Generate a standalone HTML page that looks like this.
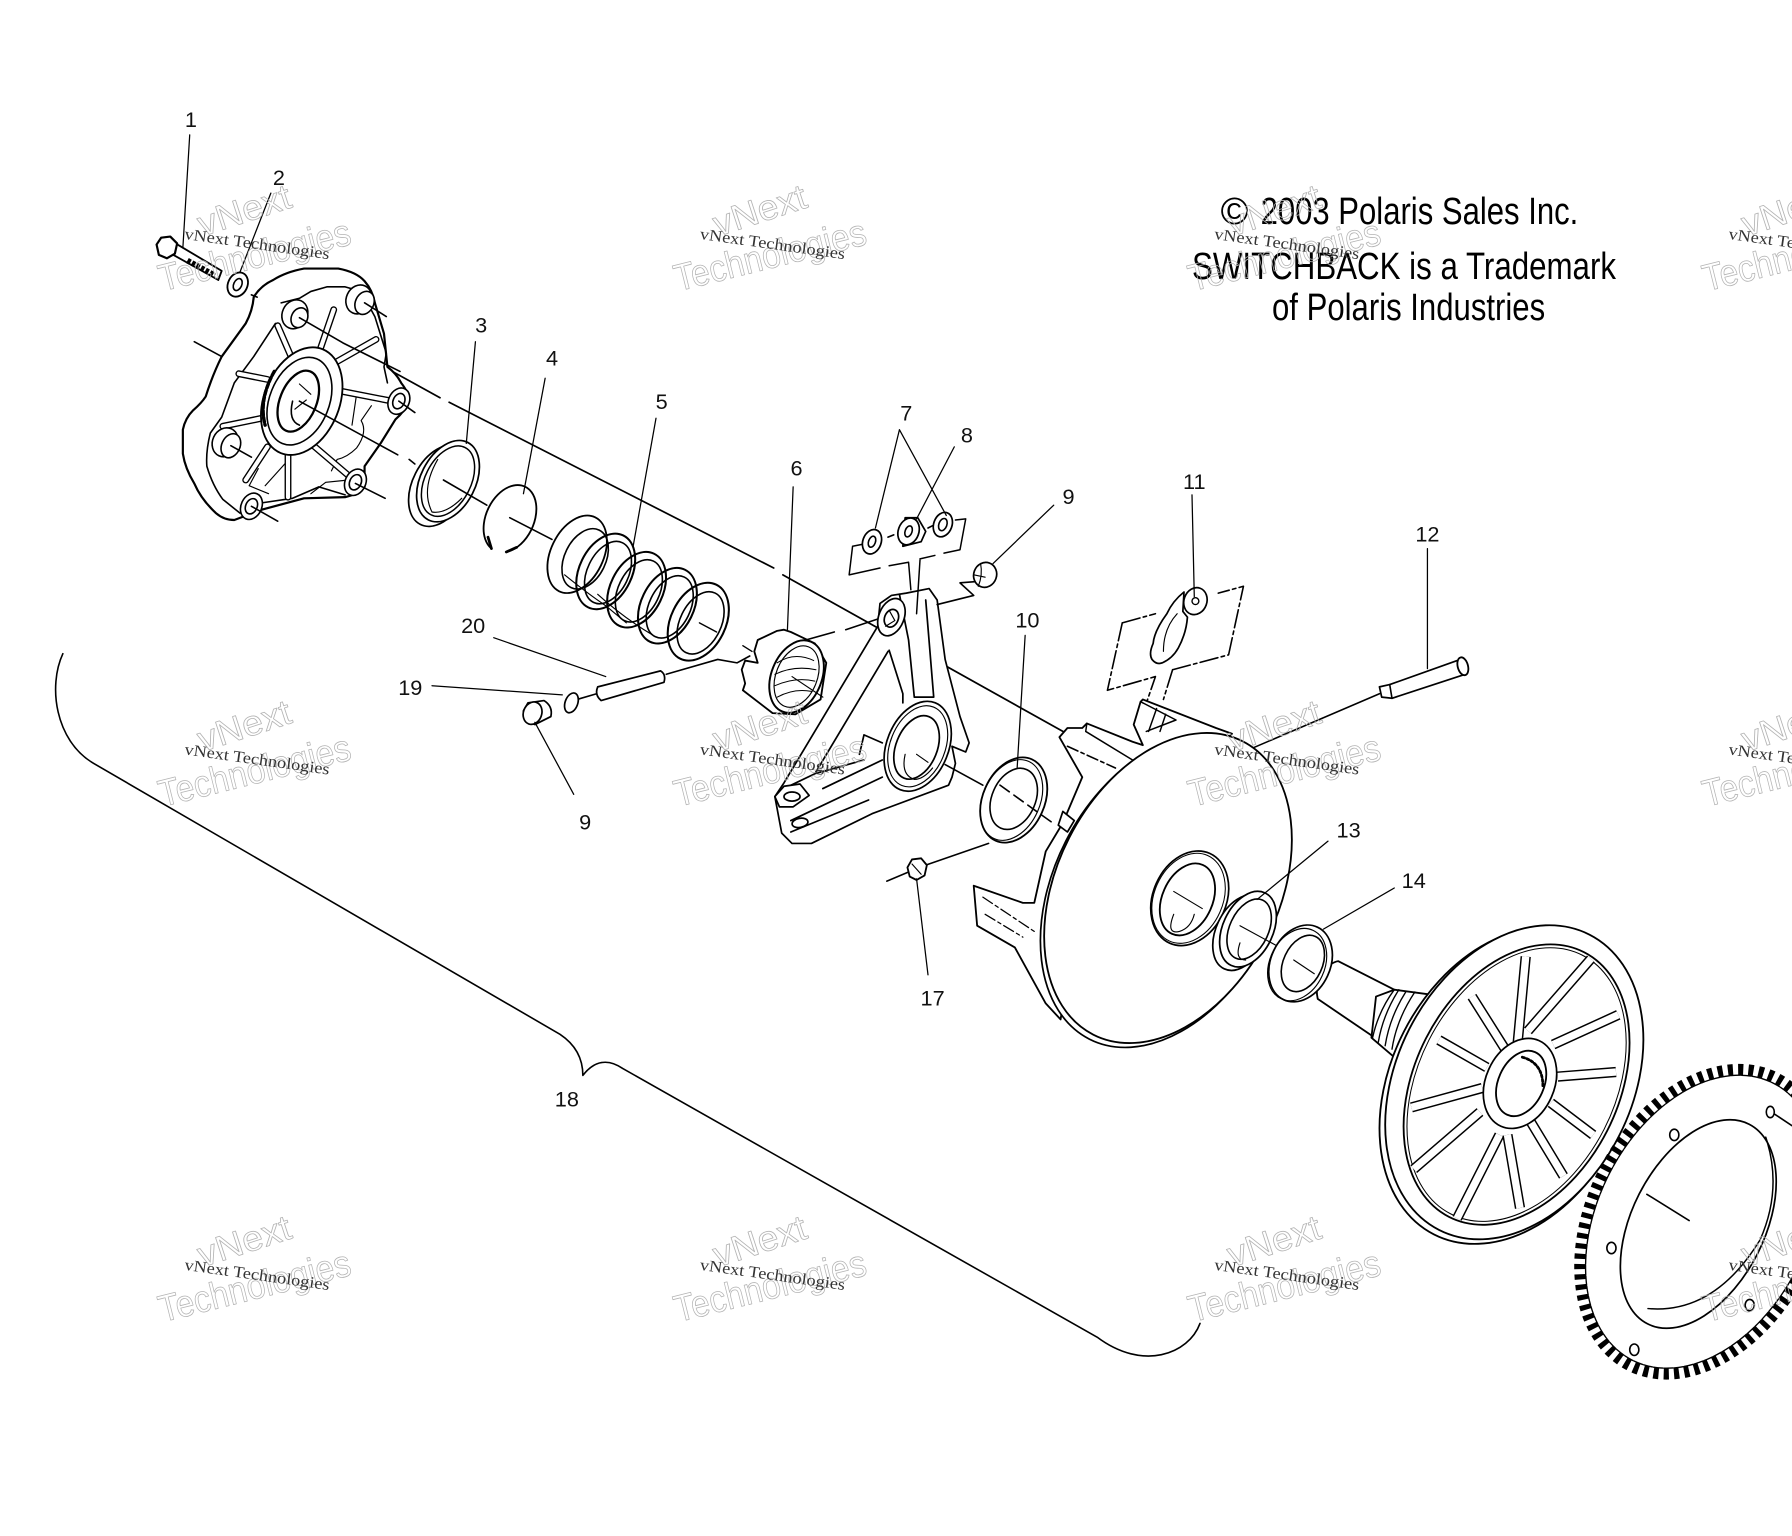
<!DOCTYPE html>
<html><head><meta charset="utf-8"><title>Driven clutch exploded diagram</title>
<style>
html,body{margin:0;padding:0;background:#fff}
svg{display:block}
.w{fill:#fff}
.l{font-family:"Liberation Sans",sans-serif;font-size:19px;fill:#111;stroke:none;text-anchor:middle}
.h{font-family:"Liberation Sans",sans-serif;font-size:33px;fill:#000;stroke:none}
.a{font-family:"Liberation Serif",serif;font-size:14px;fill:#333;stroke:none}
.b{font-family:"Liberation Sans",sans-serif;font-size:31px;fill:none;stroke:#b4b4b4;stroke-width:.7}
.c{font-family:"Liberation Sans",sans-serif;font-size:33px;fill:none;stroke:#b4b4b4;stroke-width:.7}
</style></head><body>
<svg xmlns="http://www.w3.org/2000/svg" width="1792" height="1536" viewBox="0 0 1568 1344" fill="none" stroke="#000" stroke-width="1.4" stroke-linejoin="round" stroke-linecap="round">
<rect x="0" y="0" width="1568" height="1344" fill="#fff" stroke="none"/>

<!-- main axis -->
<path d="M258 278L385 348M393 352L677 497M685 503L930 640" stroke-width="1.5"/>

<!-- brace 18 -->
<path d="M55 572C42 600 48 648 82 668L490 905C505 915 510 928 510 941C520 928 532 926 545 935L960 1170C1000 1200 1040 1185 1050 1158"/>

<!-- cover -->
<g>
<path class="w" stroke-width="1.9" d="M222 260Q228 250 239 245Q250 238 266 235L296 235Q312 238 319 246Q326 254 328 265L336 292L339 321Q347 327 351 335Q358 344 358 351Q354 360 346 367L333 388L319 408L319 426Q312 433 302 435L266 436L229 446L205 455Q196 455 189 449Q176 437 170 423Q162 410 160 397L160 376Q162 366 169 359Q176 353 180 347Q186 328 194 312L215 283Q221 272 222 260Z"/>
<path d="M241 283L222 312L205 335L194 365L184 379Q180 395 181 408Q186 425 195 437L210 449"/>
<path d="M246 265L262 261L272 255L286 251L302 251L316 255L328 277L338 309L336 321L339 335M302 433L279 426L256 436L229 440"/>
<path d="M325 355L316 368Q322 378 312 392Q304 400 295 402L290 412M312 345L308 372M305 420L285 422L272 432" stroke-width="1"/>
<path d="M226 410L218 425L235 432M250 405L232 425" stroke-width="1"/>
<g stroke="#000" stroke-width="6">
<path d="M243 285L256 315M292 271L279 309M329 297L292 318M292 341L343 351M272 388L306 417M252 394L252 435M234 391L215 420M229 366L195 373M234 332L209 327"/>
</g>
<g stroke="#fff" stroke-width="3.6">
<path d="M243 285L256 315M292 271L279 309M329 297L292 318M292 341L343 351M272 388L306 417M252 394L252 435M234 391L215 420M229 366L195 373M234 332L209 327"/>
</g>
<ellipse class="w" cx="264" cy="351" rx="33" ry="49" transform="rotate(22 264 351)" stroke-width="1.6"/>
<ellipse cx="262" cy="351" rx="26" ry="40" transform="rotate(22 262 351)"/>
<ellipse class="w" cx="261" cy="351" rx="16" ry="28" transform="rotate(22 261 351)" stroke-width="2"/>
<path d="M262 336L272 345M258 358L268 350" stroke-width="1"/>
<path d="M256 351Q252 368 262 372"/>
<path d="M240 325Q226 350 232 372" stroke-width="3" stroke-dasharray="4 2"/>
<g class="w">
<ellipse cx="258" cy="275" rx="11" ry="13" transform="rotate(25 258 275)"/>
<ellipse cx="262" cy="278" rx="7" ry="9" transform="rotate(25 262 278)"/>
<ellipse cx="314" cy="262" rx="11" ry="13" transform="rotate(25 314 262)"/>
<ellipse cx="319" cy="265" rx="8" ry="10.5" transform="rotate(25 319 265)"/>
<ellipse cx="349" cy="351" rx="9" ry="12" transform="rotate(25 349 351)"/>
<ellipse cx="349" cy="351" rx="5" ry="7" transform="rotate(25 349 351)"/>
<ellipse cx="311" cy="422" rx="9" ry="12" transform="rotate(25 311 422)"/>
<ellipse cx="311" cy="422" rx="5" ry="7" transform="rotate(25 311 422)"/>
<ellipse cx="220" cy="443" rx="9" ry="12" transform="rotate(25 220 443)"/>
<ellipse cx="220" cy="443" rx="5" ry="7" transform="rotate(25 220 443)"/>
<ellipse cx="197" cy="387" rx="11" ry="13" transform="rotate(25 197 387)"/>
<ellipse cx="202" cy="390" rx="8" ry="11" transform="rotate(25 202 390)"/>
</g>
<path d="M262 278L300 300L350 325M319 265L338 277M349 351L363 361M311 423L337 436M220 443L243 456M202 390L220 400M170 299L194 312M220 258L225 260"/>
<path d="M262 351L348 398M358 402L363 406"/>
</g>

<!-- bolt 1, washer 2 -->
<path class="w" stroke-width="1.6" d="M152 212L194 237L191 245L148 221Z"/>
<path d="M164 228L188 241" stroke-width="5" stroke-dasharray="3 1.5" stroke-linecap="butt"/>
<path class="w" stroke-width="1.9" d="M141 208L149 207L155 213L153 222L146 226L139 223L137 214Z"/>
<ellipse class="w" cx="208" cy="249" rx="8.5" ry="11" transform="rotate(25 208 249)" stroke-width="1.6"/>
<ellipse cx="208" cy="249" rx="3.5" ry="5.5" transform="rotate(25 208 249)"/>

<!-- ring 3 -->
<ellipse class="w" cx="385" cy="425" rx="24" ry="38" transform="rotate(27 385 425)" stroke-width="1.5"/>
<ellipse class="w" cx="392" cy="421" rx="24" ry="38" transform="rotate(27 392 421)" stroke-width="1.5"/>
<ellipse class="w" cx="392" cy="421" rx="20" ry="33" transform="rotate(27 392 421)" stroke-width="1.3"/>
<path d="M383 402Q368 428 378 448Q390 450 404 436" stroke-width="1"/>
<path d="M388 420L426 442"/>

<!-- snap ring 4 -->
<path d="M430 480A21 31 25 1 1 443 483" stroke-width="1.6"/>
<path d="M430 480L427 470M443 483L452 479" stroke-width="2.4"/>
<path d="M446 453L483 472"/>

<!-- spring 5 -->
<g>
<ellipse cx="505" cy="485" rx="23" ry="36" transform="rotate(26 505 485)" class="w" stroke-width="1.6"/>
<ellipse cx="512" cy="489" rx="18" ry="28" transform="rotate(26 512 489)"/>
<ellipse cx="530" cy="500" rx="23" ry="35" transform="rotate(26 530 500)" stroke-width="1.8"/>
<ellipse cx="532" cy="501" rx="18" ry="29" transform="rotate(26 532 501)"/>
<ellipse cx="557" cy="516" rx="23" ry="35" transform="rotate(26 557 516)" stroke-width="1.8"/>
<ellipse cx="559" cy="517" rx="18" ry="29" transform="rotate(26 559 517)"/>
<ellipse cx="584" cy="530" rx="23" ry="35" transform="rotate(26 584 530)" stroke-width="1.8"/>
<ellipse cx="586" cy="531" rx="18" ry="29" transform="rotate(26 586 531)"/>
<ellipse cx="611" cy="544" rx="24" ry="36" transform="rotate(26 611 544)" stroke-width="1.8"/>
<ellipse cx="613" cy="545" rx="18" ry="29" transform="rotate(26 613 545)"/>
<path d="M494 503Q515 520 530 530L548 545M523 520Q545 540 570 555" stroke-width="1"/>
</g>

<!-- pin 20 + 19 + 9 -->
<path d="M583 590L628 577L645 580L656 574M669 570L695 563M705 560L730 553M740 551L770 541"/>
<path class="w" stroke-width="1.5" d="M523 601L578 587Q583 590 581 597L526 613Q520 608 523 601Z"/>
<path d="M505 612L522 607"/>
<ellipse class="w" cx="500" cy="615" rx="5.5" ry="9" transform="rotate(20 500 615)" stroke-width="1.5"/>
<path class="w" stroke-width="1.5" d="M462 615L476 613Q484 618 482 627L468 634Q458 630 458 622Z"/>
<ellipse class="w" cx="466" cy="624" rx="8" ry="10" transform="rotate(20 466 624)" stroke-width="1.5"/>

<!-- part 6 -->
<path class="w" stroke-width="1.6" d="M649 586L652 578L663 580L660 570L663 560L680 552L686 551L692 553L713 563L723 580L718 612L696 625L676 624L650 604L652 598L649 586Z"/>
<ellipse class="w" cx="697" cy="592" rx="22" ry="33" transform="rotate(22 697 592)" stroke-width="1.7"/>
<ellipse cx="697" cy="592" rx="18" ry="28" transform="rotate(22 697 592)" stroke-width="1"/>
<path d="M680 580Q695 570 712 578M678 590Q695 582 714 586M678 600Q696 592 713 596M680 610Q695 602 710 605" stroke-width=".9"/>
<path d="M693 592L720 610" stroke-width="1"/>
<path d="M612 545L627 553M650 565L658 570" stroke-width="1.2"/>

<!-- bracket -->
<g stroke-width="1.5">
<path class="w" d="M770 528L780 521L793 519L813 515L820 525L827 577L840 627L848 650L845 658L833 653L836 668L833 680L830 687L763 712L710 738L693 738L684 729L678 697L686 685L768 548Z"/>
<path d="M777 570L713 677L686 690M778 569L790 607L790 615M795 560L800 610L805 610L817 610L810 525M787 520L795 560M756 665L713 677M720 690L772 665M692 718L772 680M692 728L760 700M772 650L756 643L752 660"/>
<ellipse class="w" cx="780" cy="540" rx="11" ry="17" transform="rotate(22 780 540)"/>
<ellipse cx="780" cy="541" rx="6" ry="8" transform="rotate(22 780 541)"/>
<path d="M778 534L783 543L775 548" stroke-width="1"/>
<ellipse class="w" cx="803" cy="653" rx="27" ry="41" transform="rotate(22 803 653)"/>
<ellipse cx="803" cy="653" rx="24" ry="37" transform="rotate(22 803 653)" stroke-width="1"/>
<ellipse class="w" cx="802" cy="654" rx="18" ry="29" transform="rotate(22 802 654)"/>
<path d="M792 660Q788 678 800 682Q808 682 816 672M802 660L812 667" stroke-width="1"/>
<path class="w" d="M678 697L686 688L700 686L708 696L694 706L682 706Z"/>
<ellipse cx="693" cy="697" rx="7" ry="4" />
<ellipse cx="700" cy="720" rx="7" ry="4" transform="rotate(-10 700 720)"/>
</g>
<path d="M820 529L852 521L840 510L853 509"/>
<path d="M827 669L860 687M875 687L900 707"/>

<!-- 7, 8, box -->
<path d="M746 478L743 503L770 497M778 495L795 492M805 489L818 486M826 484L840 481L845 454L836 455M746 478L756 476M795 492L797 516M805 490L802 537" stroke-width="1.3"/>
<path d="M777 470L782 468M812 462L816 460"/>
<ellipse class="w" cx="763" cy="474" rx="8" ry="11" transform="rotate(20 763 474)" stroke-width="1.5"/>
<ellipse cx="763" cy="474" rx="3" ry="5" transform="rotate(20 763 474)"/>
<path class="w" stroke-width="1.5" d="M792 453L803 453L810 465L806 474L790 478Z"/>
<ellipse class="w" cx="795" cy="465" rx="9" ry="12" transform="rotate(20 795 465)" stroke-width="1.5"/>
<ellipse cx="795" cy="465" rx="3" ry="5" transform="rotate(20 795 465)"/>
<ellipse class="w" cx="825" cy="459" rx="8" ry="11" transform="rotate(20 825 459)" stroke-width="1.5"/>
<ellipse cx="825" cy="459" rx="3.5" ry="5.5" transform="rotate(20 825 459)"/>
<!-- pin 9 -->
<ellipse class="w" cx="862" cy="503" rx="10" ry="11" transform="rotate(20 862 503)" stroke-width="1.5"/>
<path d="M858 493Q860 503 856 513M852 503L862 505" stroke-width="1"/>

<!-- ring 10 -->
<ellipse class="w" cx="887" cy="700" rx="27" ry="39" transform="rotate(24 887 700)" stroke-width="1.6"/>
<ellipse cx="885" cy="700" rx="25" ry="37" transform="rotate(24 885 700)" stroke-width="1"/>
<ellipse class="w" cx="887" cy="699" rx="19" ry="28" transform="rotate(24 887 699)" stroke-width="1.4"/>
<path d="M875 687L921 720" stroke-dasharray="10 5"/>

<!-- nut 17 -->
<path d="M865 738L810 757M795 763L776 771" />
<path class="w" stroke-width="1.6" d="M798 752L806 751L811 757L809 766L802 770L796 767L794 759Z"/>
<path d="M798 756L806 765" stroke-width="1"/>

<!-- box 11 -->
<path d="M982 545L1011 537M982 545L969 604L1011 592L998 630M1026 586L1075 573L1088 513L1066 519M1026 586L1018 612" stroke-dasharray="16 3 3 3"/>
<path class="w" stroke-width="1.5" d="M1036 518Q1026 526 1021 537Q1010 552 1009 563Q1005 572 1008 577Q1012 582 1017 580Q1026 576 1031 567Q1038 554 1039 540L1035 535Z"/>
<path d="M1018 570Q1018 550 1030 537" stroke-width="1"/>
<ellipse class="w" cx="1046" cy="526" rx="10" ry="12" transform="rotate(20 1046 526)" stroke-width="1.5"/>
<circle cx="1046" cy="526" r="3" stroke-width="1.2"/>

<!-- bolt 12 -->
<path d="M1207 607L1095 655" />
<path class="w" stroke-width="1.5" d="M1207 601L1216 599L1275 578L1282 590L1218 611L1209 610Z"/>
<path d="M1216 599L1218 611"/>
<ellipse class="w" cx="1280" cy="583" rx="4.5" ry="8" transform="rotate(-15 1280 583)" stroke-width="1.6"/>

<!-- sheave -->
<path class="w" stroke-width="1.6" d="M927 645L934 637L947 637L951 633L991 649L1000 652L992 634L998 614L1000 612L1064 637L1078 642L1060 660L950 760L930 880L928 892L915 878L888 829L855 810L852 775L895 790L905 790L915 745L930 720L947 680Z"/>
<path d="M934 653L976 672" stroke-dasharray="10 3 3 3"/>
<path d="M951 633L950 640L991 665M1003 640L1029 630M998 614L1029 630M1012 620L1005 640M1020 625L1015 640" stroke-width="1.3"/>
<path d="M860 785L905 815M862 800L895 820" stroke-dasharray="10 3 3 3" stroke-width="1.1"/>
<ellipse class="w" cx="1019" cy="780" rx="97" ry="145" transform="rotate(27 1019 780)" stroke-width="1.5"/>
<ellipse class="w" cx="1022" cy="777" rx="97" ry="144" transform="rotate(27 1022 777)" stroke-width="1.6"/>
<path d="M930 710L926 722L934 728L940 718Z" class="w" stroke-width="1.5"/>
<ellipse class="w" cx="1041" cy="786" rx="32" ry="43" transform="rotate(24 1041 786)" stroke-width="1.5"/>
<ellipse cx="1040" cy="786" rx="30" ry="41" transform="rotate(24 1040 786)" stroke-width=".9"/>
<ellipse class="w" cx="1039" cy="787" rx="22" ry="33" transform="rotate(24 1039 787)" stroke-width="1.6"/>
<path d="M1027 780L1052 795M1027 800Q1020 818 1032 815Q1042 812 1045 800" stroke-width="1"/>

<!-- ring 13, 14 -->
<ellipse class="w" cx="1086" cy="816" rx="22" ry="35" transform="rotate(25 1086 816)" stroke-width="1.5"/>
<ellipse class="w" cx="1092" cy="813" rx="22" ry="35" transform="rotate(25 1092 813)" stroke-width="1.5"/>
<ellipse class="w" cx="1093" cy="813" rx="17" ry="28" transform="rotate(25 1093 813)" stroke-width="1.4"/>
<path d="M1085 810L1118 828M1085 825Q1080 840 1090 840" stroke-width="1"/>

<!-- shaft -->
<path class="w" stroke-width="1.6" d="M1171 841L1220 866L1200 906L1153 874Q1150 860 1158 851Q1164 842 1171 841Z"/>
<ellipse class="w" cx="1138" cy="843" rx="26" ry="35" transform="rotate(25 1138 843)" stroke-width="1.5"/>
<ellipse cx="1135" cy="844" rx="24" ry="33" transform="rotate(25 1135 844)" stroke-width="1"/>
<ellipse class="w" cx="1140" cy="843" rx="17" ry="26" transform="rotate(25 1140 843)" stroke-width="1.4"/>
<path d="M1132 840L1150 852" stroke-width="1"/>
<path class="w" stroke-width="1.6" d="M1204 872L1220 866L1250 870L1240 895L1220 925L1200 908Z"/>
<path d="M1220 866Q1206 885 1201 908M1224 866Q1210 888 1206 912M1230 868Q1216 890 1212 915M1238 868Q1222 892 1218 918" stroke-width="1.2"/>

<!-- wheel -->
<ellipse class="w" cx="1321" cy="950" rx="104" ry="146" transform="rotate(27 1321 950)" stroke-width="1.6"/>
<ellipse class="w" cx="1325" cy="947" rx="103" ry="145" transform="rotate(27 1325 947)" stroke-width="1.6"/>
<ellipse class="w" cx="1327" cy="949" rx="89" ry="130" transform="rotate(27 1327 949)" stroke-width="1.6"/>
<ellipse cx="1327" cy="949" rx="86" ry="127" transform="rotate(27 1327 949)" stroke-width=".9"/>
<g stroke-width="9" stroke-linecap="butt">
<path d="M1335 837L1328 912M1392 839L1337 902M1416 888L1359 914M1414 938L1363 942M1394 993L1357 965M1368 1029L1339 981M1330 1057L1319 993M1275 1066L1312 993M1237 1023L1295 973M1235 969L1297 952M1259 910L1301 934M1288 872L1317 918"/>
</g>
<g stroke="#fff" stroke-width="6.4" stroke-linecap="butt">
<path d="M1335 837L1328 912M1392 839L1337 902M1416 888L1359 914M1414 938L1363 942M1394 993L1357 965M1368 1029L1339 981M1330 1057L1319 993M1275 1066L1312 993M1237 1023L1295 973M1235 969L1297 952M1259 910L1301 934M1288 872L1317 918"/>
</g>
<ellipse class="w" cx="1330" cy="948" rx="30" ry="41" transform="rotate(24 1330 948)" stroke-width="1.5"/>
<ellipse class="w" cx="1331" cy="948" rx="20" ry="30" transform="rotate(24 1331 948)" stroke-width="1.6"/>
<path d="M1332 925Q1350 930 1350 950" stroke-width="2.4" stroke-dasharray="2 2"/>

<!-- gear -->
<ellipse cx="1490" cy="1069" rx="97" ry="141" transform="rotate(27 1490 1069)" stroke-width="10" stroke-dasharray="4.5 4.5" stroke-linecap="butt"/>
<ellipse cx="1490" cy="1069" rx="92" ry="136" transform="rotate(27 1490 1069)" stroke-width="1.2" stroke-dasharray="8 1"/>
<ellipse cx="1486" cy="1071" rx="58" ry="98" transform="rotate(27 1486 1071)" stroke-width="1.5"/>
<path d="M1442 1145Q1500 1150 1540 1085Q1560 1040 1545 995" stroke-width="1.3"/>
<ellipse cx="1465" cy="993" rx="4" ry="5"/>
<ellipse cx="1410" cy="1092" rx="4" ry="5"/>
<ellipse cx="1430" cy="1181" rx="4" ry="5"/>
<ellipse cx="1531" cy="1142" rx="4" ry="5"/>
<ellipse cx="1549" cy="973" rx="3.5" ry="5"/>
<path d="M1441 1045L1478 1068M1553 975L1568 985"/>

<!-- leaders -->
<g stroke-width="1.1">
<path d="M166 118L160 217M237 169L210 238M416 299L408 388M477 331L458 432M574 366L554 478M694 426L689 551M787 376L766 462M787 376L828 451M835 391L802 454M922 442L869 493M897 556L890 672M1043 433L1045 522M1249 480L1249 585M1162 736L1100 787M1220 777L1158 813M802 769L812 853M432 558L530 592M378 600L492 608M468 632L502 695"/>
</g>

<!-- labels -->
<g>
<text class="l" x="167" y="111">1</text>
<text class="l" x="244" y="162">2</text>
<text class="l" x="421" y="291">3</text>
<text class="l" x="483" y="320">4</text>
<text class="l" x="579" y="358">5</text>
<text class="l" x="697" y="416">6</text>
<text class="l" x="793" y="368">7</text>
<text class="l" x="846" y="387">8</text>
<text class="l" x="935" y="441">9</text>
<text class="l" x="899" y="549">10</text>
<text class="l" x="1045" y="428">11</text>
<text class="l" x="1249" y="474">12</text>
<text class="l" x="1180" y="733">13</text>
<text class="l" x="1237" y="777">14</text>
<text class="l" x="816" y="880">17</text>
<text class="l" x="496" y="968">18</text>
<text class="l" x="359" y="608">19</text>
<text class="l" x="414" y="554">20</text>
<text class="l" x="512" y="726">9</text>
</g>

<!-- heading -->
<text class="h" x="1068" y="196">©</text>
<text class="h" x="1103" y="196" textLength="278" lengthAdjust="spacingAndGlyphs">2003 Polaris Sales Inc.</text>
<text class="h" x="1043" y="244" textLength="371" lengthAdjust="spacingAndGlyphs">SWITCHBACK is a Trademark</text>
<text class="h" x="1113" y="280" textLength="239" lengthAdjust="spacingAndGlyphs">of Polaris Industries</text>

<!-- watermarks -->
<g transform="translate(0,0)"><text class="b" transform="translate(177,207) rotate(-18)" textLength="84" lengthAdjust="spacingAndGlyphs">vNext</text><text class="c" transform="translate(142,255) rotate(-14)" textLength="172" lengthAdjust="spacingAndGlyphs">Technologies</text><text class="a" transform="translate(161,209) rotate(8)" textLength="128" lengthAdjust="spacingAndGlyphs">vNext Technologies</text></g>
<g transform="translate(451,0)"><text class="b" transform="translate(177,207) rotate(-18)" textLength="84" lengthAdjust="spacingAndGlyphs">vNext</text><text class="c" transform="translate(142,255) rotate(-14)" textLength="172" lengthAdjust="spacingAndGlyphs">Technologies</text><text class="a" transform="translate(161,209) rotate(8)" textLength="128" lengthAdjust="spacingAndGlyphs">vNext Technologies</text></g>
<g transform="translate(901,0)"><text class="b" transform="translate(177,207) rotate(-18)" textLength="84" lengthAdjust="spacingAndGlyphs">vNext</text><text class="c" transform="translate(142,255) rotate(-14)" textLength="172" lengthAdjust="spacingAndGlyphs">Technologies</text><text class="a" transform="translate(161,209) rotate(8)" textLength="128" lengthAdjust="spacingAndGlyphs">vNext Technologies</text></g>
<g transform="translate(1351,0)"><text class="b" transform="translate(177,207) rotate(-18)" textLength="84" lengthAdjust="spacingAndGlyphs">vNext</text><text class="c" transform="translate(142,255) rotate(-14)" textLength="172" lengthAdjust="spacingAndGlyphs">Technologies</text><text class="a" transform="translate(161,209) rotate(8)" textLength="128" lengthAdjust="spacingAndGlyphs">vNext Technologies</text></g>
<g transform="translate(0,451)"><text class="b" transform="translate(177,207) rotate(-18)" textLength="84" lengthAdjust="spacingAndGlyphs">vNext</text><text class="c" transform="translate(142,255) rotate(-14)" textLength="172" lengthAdjust="spacingAndGlyphs">Technologies</text><text class="a" transform="translate(161,209) rotate(8)" textLength="128" lengthAdjust="spacingAndGlyphs">vNext Technologies</text></g>
<g transform="translate(451,451)"><text class="b" transform="translate(177,207) rotate(-18)" textLength="84" lengthAdjust="spacingAndGlyphs">vNext</text><text class="c" transform="translate(142,255) rotate(-14)" textLength="172" lengthAdjust="spacingAndGlyphs">Technologies</text><text class="a" transform="translate(161,209) rotate(8)" textLength="128" lengthAdjust="spacingAndGlyphs">vNext Technologies</text></g>
<g transform="translate(901,451)"><text class="b" transform="translate(177,207) rotate(-18)" textLength="84" lengthAdjust="spacingAndGlyphs">vNext</text><text class="c" transform="translate(142,255) rotate(-14)" textLength="172" lengthAdjust="spacingAndGlyphs">Technologies</text><text class="a" transform="translate(161,209) rotate(8)" textLength="128" lengthAdjust="spacingAndGlyphs">vNext Technologies</text></g>
<g transform="translate(1351,451)"><text class="b" transform="translate(177,207) rotate(-18)" textLength="84" lengthAdjust="spacingAndGlyphs">vNext</text><text class="c" transform="translate(142,255) rotate(-14)" textLength="172" lengthAdjust="spacingAndGlyphs">Technologies</text><text class="a" transform="translate(161,209) rotate(8)" textLength="128" lengthAdjust="spacingAndGlyphs">vNext Technologies</text></g>
<g transform="translate(0,902)"><text class="b" transform="translate(177,207) rotate(-18)" textLength="84" lengthAdjust="spacingAndGlyphs">vNext</text><text class="c" transform="translate(142,255) rotate(-14)" textLength="172" lengthAdjust="spacingAndGlyphs">Technologies</text><text class="a" transform="translate(161,209) rotate(8)" textLength="128" lengthAdjust="spacingAndGlyphs">vNext Technologies</text></g>
<g transform="translate(451,902)"><text class="b" transform="translate(177,207) rotate(-18)" textLength="84" lengthAdjust="spacingAndGlyphs">vNext</text><text class="c" transform="translate(142,255) rotate(-14)" textLength="172" lengthAdjust="spacingAndGlyphs">Technologies</text><text class="a" transform="translate(161,209) rotate(8)" textLength="128" lengthAdjust="spacingAndGlyphs">vNext Technologies</text></g>
<g transform="translate(901,902)"><text class="b" transform="translate(177,207) rotate(-18)" textLength="84" lengthAdjust="spacingAndGlyphs">vNext</text><text class="c" transform="translate(142,255) rotate(-14)" textLength="172" lengthAdjust="spacingAndGlyphs">Technologies</text><text class="a" transform="translate(161,209) rotate(8)" textLength="128" lengthAdjust="spacingAndGlyphs">vNext Technologies</text></g>
<g transform="translate(1351,902)"><text class="b" transform="translate(177,207) rotate(-18)" textLength="84" lengthAdjust="spacingAndGlyphs">vNext</text><text class="c" transform="translate(142,255) rotate(-14)" textLength="172" lengthAdjust="spacingAndGlyphs">Technologies</text><text class="a" transform="translate(161,209) rotate(8)" textLength="128" lengthAdjust="spacingAndGlyphs">vNext Technologies</text></g>
</svg>
</body></html>
